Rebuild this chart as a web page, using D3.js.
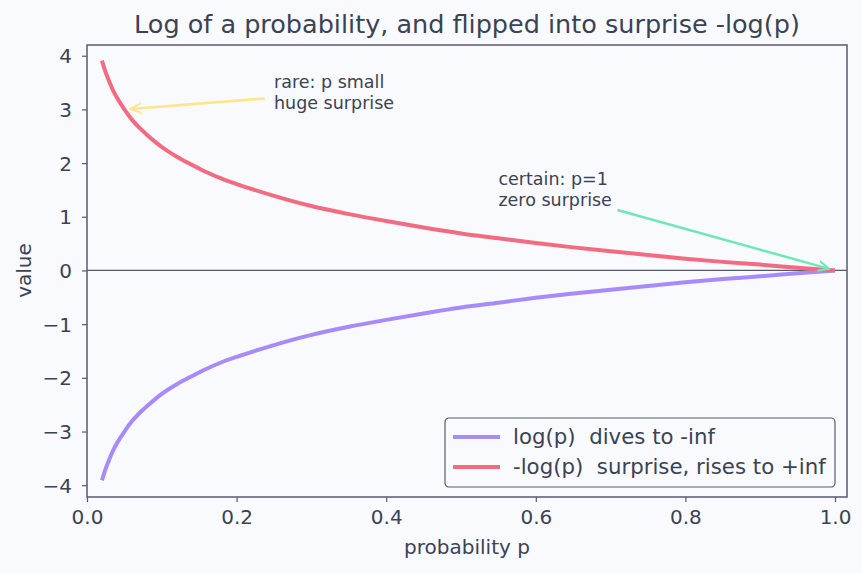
<!DOCTYPE html>
<html>
<head>
<meta charset="utf-8">
<script src="https://cdn.jsdelivr.net/npm/d3@7"></script>
<style>
  body { margin: 0; background: #f9fafd; }
  svg text { font-family: "DejaVu Sans", sans-serif; fill: #3b4254; white-space: pre; }
</style>
</head>
<body>
<div id="chart"></div>
<script>
// probabilities sampled along the x axis
var probs = [0.02, 0.025, 0.03, 0.035, 0.04, 0.05, 0.06, 0.07, 0.08, 0.09, 0.10, 0.12, 0.14, 0.16, 0.18,
             0.20, 0.25, 0.30, 0.35, 0.40, 0.45, 0.50, 0.55, 0.60, 0.65, 0.70, 0.75, 0.80, 0.85, 0.90, 0.95, 1.00];
// log(p)
var logValues = [-3.91, -3.69, -3.51, -3.35, -3.22, -3.00, -2.81, -2.66, -2.53, -2.41, -2.30, -2.12, -1.97, -1.83, -1.71,
                 -1.61, -1.39, -1.20, -1.05, -0.92, -0.80, -0.69, -0.60, -0.51, -0.43, -0.36, -0.29, -0.22, -0.16, -0.11, -0.05, 0.00];
// -log(p)
var surpriseValues = [3.91, 3.69, 3.51, 3.35, 3.22, 3.00, 2.81, 2.66, 2.53, 2.41, 2.30, 2.12, 1.97, 1.83, 1.71,
                      1.61, 1.39, 1.20, 1.05, 0.92, 0.80, 0.69, 0.60, 0.51, 0.43, 0.36, 0.29, 0.22, 0.16, 0.11, 0.05, 0.00];
var xTicks = [0, 0.2, 0.4, 0.6, 0.8, 1.0];
var yTicks = [-4, -3, -2, -1, 0, 1, 2, 3, 4];
var seriesNames = ["log(p)  dives to -inf", "-log(p)  surprise, rises to +inf"];
var notes = [
  {lines: ["rare: p small", "huge surprise"], x: 0.25, y: 3.0, px: 0.05, py: 3.0, color: "#fde68a"},
  {lines: ["certain: p=1", "zero surprise"], x: 0.55, y: 1.2, px: 1.0, py: 0.0, color: "#6ee7b7"}
];

(function() {
var W = 862, H = 573;
var margin = {top: 45, right: 15, bottom: 76, left: 87},
    width = W - margin.left - margin.right,
    height = H - margin.top - margin.bottom;

var axisColor = "#555b6e";
var purple = "#a78bfa", red = "#f26b80";

var x = d3.scaleLinear().domain([0, 1.016]).range([0, width]);
var y = d3.scaleLinear().domain([-4.22, 4.2]).range([height, 0]);

var svg = d3.select("#chart").append("svg")
    .attr("width", W)
    .attr("height", H)
    .style("background", "#f9fafd");

// title
svg.append("text")
    .attr("x", margin.left + width / 2)
    .attr("y", 33)
    .attr("text-anchor", "middle")
    .style("font-size", "25.5px")
    .text("Log of a probability, and flipped into surprise -log(p)");

var g = svg.append("g")
    .attr("transform", "translate(" + margin.left + "," + margin.top + ")");

// zero line
g.append("line")
    .attr("x1", 0).attr("x2", width)
    .attr("y1", y(0)).attr("y2", y(0))
    .attr("stroke", axisColor)
    .attr("stroke-width", 1.2);

var line = d3.line()
    .x(function(d) { return x(d[0]); })
    .y(function(d) { return y(d[1]); })
    .curve(d3.curveMonotoneX);

g.append("path")
    .datum(d3.zip(probs, logValues))
    .attr("fill", "none")
    .attr("stroke", purple)
    .attr("stroke-width", 4)
    .attr("d", line);

g.append("path")
    .datum(d3.zip(probs, surpriseValues))
    .attr("fill", "none")
    .attr("stroke", red)
    .attr("stroke-width", 4)
    .attr("d", line);

// arrow heads
var defs = svg.append("defs");
notes.forEach(function(n, i) {
  defs.append("marker")
      .attr("id", "arrow" + i)
      .attr("viewBox", "0 0 10 10")
      .attr("refX", 9).attr("refY", 5)
      .attr("markerWidth", 5).attr("markerHeight", 5)
      .attr("markerUnits", "strokeWidth")
      .attr("orient", "auto")
    .append("path")
      .attr("d", "M0,1 L9,5 L0,9")
      .attr("fill", "none")
      .attr("stroke", n.color)
      .attr("stroke-width", 1.6);
});

// annotations
notes.forEach(function(n, i) {
  var tx = x(n.x), ty = y(n.y);
  var t = g.append("text")
      .attr("x", tx)
      .attr("y", ty)
      .style("font-size", "17.5px");
  n.lines.forEach(function(l, j) {
    t.append("tspan")
        .attr("x", tx)
        .attr("dy", j === 0 ? -21 : 21)
        .text(l);
  });
  // arrow from the text block to the point
  var sx = i === 0 ? tx - 9 : tx + 119;
  var sy = i === 0 ? ty - 11 : ty + 4;
  var ex = x(n.px), ey = y(n.py);
  var dx = ex - sx, dy = ey - sy, len = Math.sqrt(dx * dx + dy * dy);
  var shrink = 6;
  g.append("line")
      .attr("x1", sx).attr("y1", sy)
      .attr("x2", ex - dx / len * shrink).attr("y2", ey - dy / len * shrink)
      .attr("stroke", n.color)
      .attr("stroke-width", 2.5)
      .attr("marker-end", "url(#arrow" + i + ")");
});

// axes
var xAxis = g.append("g")
    .attr("transform", "translate(0," + height + ")")
    .call(d3.axisBottom(x).tickValues(xTicks).tickFormat(d3.format(".1f")).tickSizeOuter(0).tickSize(5).tickPadding(8));
var yAxis = g.append("g")
    .call(d3.axisLeft(y).tickValues(yTicks).tickFormat(d3.format("d")).tickSizeOuter(0).tickSize(5).tickPadding(10));

[xAxis, yAxis].forEach(function(a) {
  a.select(".domain").remove();
  a.selectAll(".tick line").attr("stroke", axisColor).attr("stroke-width", 1.2);
  a.selectAll(".tick text").style("font-size", "20px").attr("fill", "#3b4254");
});
yAxis.selectAll(".tick text").attr("dy", "0.35em");

// frame
g.append("rect")
    .attr("width", width)
    .attr("height", height)
    .attr("fill", "none")
    .attr("stroke", axisColor)
    .attr("stroke-width", 1.5);

// axis labels
svg.append("text")
    .attr("x", margin.left + width / 2)
    .attr("y", 554)
    .attr("text-anchor", "middle")
    .style("font-size", "20px")
    .text("probability p");

svg.append("text")
    .attr("transform", "translate(31," + (margin.top + y(0)) + ") rotate(-90)")
    .attr("text-anchor", "middle")
    .style("font-size", "20px")
    .text("value");

// legend
var lg = svg.append("g").attr("transform", "translate(445,418)");
lg.append("rect")
    .attr("width", 390).attr("height", 69)
    .attr("rx", 4)
    .attr("fill", "#f9fafd")
    .attr("stroke", axisColor)
    .attr("stroke-width", 1.2);
[purple, red].forEach(function(c, i) {
  var cy = 19 + i * 30;
  lg.append("line")
      .attr("x1", 8).attr("x2", 55)
      .attr("y1", cy).attr("y2", cy)
      .attr("stroke", c)
      .attr("stroke-width", 4);
  lg.append("text")
      .attr("x", 68).attr("y", cy)
      .attr("dy", "0.35em")
      .style("font-size", "21.3px")
      .text(seriesNames[i]);
});
})();
</script>
</body>
</html>
